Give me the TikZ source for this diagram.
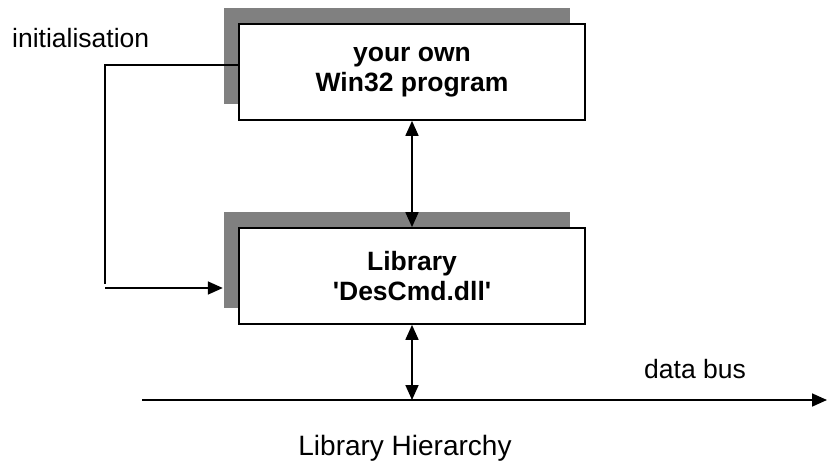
\documentclass[tikz,border=0pt]{standalone}
\usepackage{fontspec}
\setmainfont{Liberation Sans}[Ligatures=TeXOff]
\usetikzlibrary{arrows.meta,calc}
\definecolor{shade}{RGB}{128,128,128}
\begin{document}
\begin{tikzpicture}[x=1pt,y=-1pt,
  boxnode/.style={draw=black,fill=white,line width=1.7pt,minimum width=346pt,minimum height=96pt,inner sep=0pt,align=center,font=\fontsize{26.5}{30}\selectfont\bfseries},
  shadownode/.style={fill=shade,minimum width=346pt,minimum height=96pt,inner sep=0pt},
  conn/.style={line width=1.7pt},
  tip/.style={-{Triangle[length=15pt,width=13pt]}},
  dtip/.style={{Triangle[length=15pt,width=13pt]}-{Triangle[length=15pt,width=13pt]}},
  lbl/.style={inner sep=0pt,font=\fontsize{26.5}{30}\selectfont}]
\useasboundingbox (0,0) rectangle (827,461);
% shadows
\node[shadownode] (sh1) at (397,56) {};
\node[shadownode] (sh2) at (397,260) {};
% boxes
\node[boxnode] (prog) at (412,72) {your own\\Win32 program};
\node[boxnode] (lib) at (412,276) {Library\\'DesCmd.dll'};
% labels
\node[lbl,anchor=base west] (init) at (12,47) {initialisation};
\node[lbl,anchor=base] (bus) at (695,378) {data bus};
\node[lbl,anchor=base,font=\fontsize{28}{32}\selectfont] (title) at (405,455) {Library Hierarchy};
% coordinates
\coordinate (a1) at (prog.west |- 0,65);
\coordinate (corner) at (105,65);
\coordinate (a2) at (105,288);
\coordinate (a3) at (sh2.west |- 0,288);
\coordinate (busL) at (142,400);
\coordinate (busR) at (827,400);
\coordinate (busJ) at (412,400);
% connectors
\draw[conn] (a1) -- (corner) -- ([yshift=4pt]a2);
\draw[conn,tip] (a2) -- ([xshift=-1pt]a3);
\draw[conn,dtip] (prog.south) -- (lib.north);
\draw[conn,dtip] (lib.south) -- (busJ);
\draw[conn,tip] (busL) -- (busR);
\end{tikzpicture}
\end{document}
